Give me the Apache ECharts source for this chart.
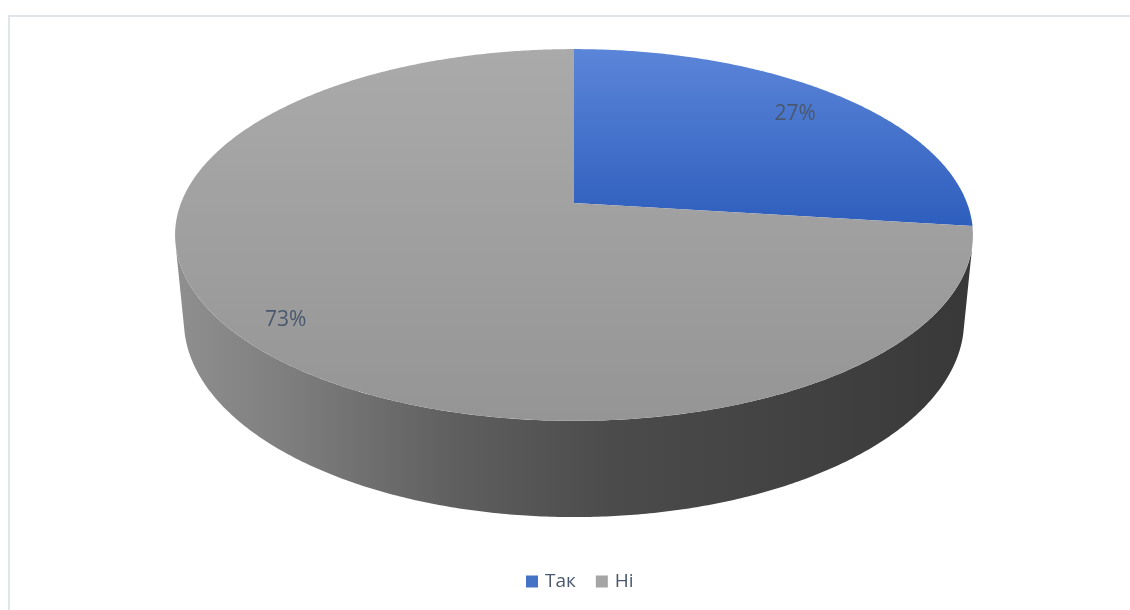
<!DOCTYPE html>
<html>
<head>
<meta charset="utf-8">
<title>Так / Ні</title>
<script src="https://cdn.jsdelivr.net/npm/echarts@6/dist/echarts.min.js"></script>
<style>
  html, body { margin: 0; padding: 0; background: #ffffff; }
  #chart { width: 1130px; height: 610px; }
</style>
</head>
<body>
<div id="chart"></div>
<script>
// Answers and their shares
const categories = ['Так', 'Ні'];
const values = [27, 73];

// Slice colours (legend swatches use the base colour)
const baseColors = ['#4472c4', '#a5a5a5'];
const topGradients = [
  ['#5b85d8', '#2e5ebd'],
  ['#aaaaaa', '#959595']
];

// Perspective camera for the tilted disc
const VIEW = {
  cx: 574,          // screen position of the disc centre
  cy: 203,
  focal: 2029,      // focal length in pixels
  dist: 5.163,      // camera distance in disc radii
  tilt: Math.asin(0.459),
  depth: 0.248      // disc thickness in disc radii
};
const LABEL_RADIUS = [0.82, 0.88];
const TEXT_COLOR = '#4a586e';
const FONT = '"Open Sans", "Noto Sans", sans-serif';

const total = values.reduce((a, b) => a + b, 0);

function project(theta, r, h) {
  const s = Math.sin(VIEW.tilt), c = Math.cos(VIEW.tilt);
  const X = r * Math.sin(theta);
  const d = r * Math.cos(theta);
  const z = VIEW.dist + d * c - h * s;
  return [VIEW.cx + VIEW.focal * X / z, VIEW.cy - VIEW.focal * (d * s + h * c) / z];
}

function arcPoints(a, b, h) {
  const pts = [];
  const n = Math.max(2, Math.ceil(Math.abs(b - a) / (Math.PI / 360)));
  for (let k = 0; k <= n; k++) {
    pts.push(project(a + (b - a) * k / n, 1, h));
  }
  return pts;
}

// Angles are measured clockwise from the far side of the disc (12 o'clock)
function sliceAngles(index) {
  let start = 0;
  for (let i = 0; i < index; i++) start += values[i];
  const a = start / total * Math.PI * 2;
  const b = (start + values[index]) / total * Math.PI * 2;
  return [a, b];
}

function renderSlice(params, api) {
  const i = params.seriesIndex;
  const [a, b] = sliceAngles(i);
  const children = [];

  // Outer wall: only the part that faces the camera
  const c = Math.cos(VIEW.tilt);
  const limit = Math.acos(-1 / (VIEW.dist * c));
  const wa = Math.max(a, limit);
  const wb = Math.min(b, Math.PI * 2 - limit);
  if (wb > wa) {
    const topRim = arcPoints(wa, wb, 0);
    const bottomRim = arcPoints(wb, wa, -VIEW.depth);
    const left = project(Math.PI * 2 - limit, 1, 0)[0];
    const right = project(limit, 1, 0)[0];
    children.push({
      type: 'polygon',
      z2: 1,
      shape: { points: topRim.concat(bottomRim) },
      style: {
        fill: {
          type: 'linear', global: true,
          x: left, y: 0, x2: right, y2: 0,
          colorStops: [
            { offset: 0, color: '#8f8f8f' },
            { offset: 0.15, color: '#7d7d7d' },
            { offset: 0.35, color: '#5f5f5f' },
            { offset: 0.55, color: '#4b4b4b' },
            { offset: 0.8, color: '#414141' },
            { offset: 1, color: '#383838' }
          ]
        }
      }
    });
  }

  // Top face of the slice
  const topPts = [project(0, 0, 0)].concat(arcPoints(a, b, 0));
  children.push({
    type: 'polygon',
    z2: 10,
    shape: { points: topPts },
    style: {
      fill: {
        type: 'linear', x: 0, y: 0, x2: 0, y2: 1,
        colorStops: [
          { offset: 0, color: topGradients[i][0] },
          { offset: 1, color: topGradients[i][1] }
        ]
      }
    }
  });

  // Percentage label
  const mid = (a + b) / 2;
  const pos = project(mid, LABEL_RADIUS[i], 0);
  children.push({
    type: 'text',
    z2: 20,
    x: pos[0],
    y: pos[1],
    style: {
      text: Math.round(api.value(0) / total * 100) + '%',
      fill: TEXT_COLOR,
      font: '21px ' + FONT,
      align: 'center',
      verticalAlign: 'middle'
    }
  });

  return { type: 'group', children: children };
}

const chart = echarts.init(document.getElementById('chart'), null, { renderer: 'canvas' });

chart.setOption({
  backgroundColor: '#ffffff',
  animation: false,
  graphic: [{
    type: 'rect',
    silent: true,
    shape: { x: 9, y: 16, width: 1300, height: 800 },
    style: { fill: 'none', stroke: '#e0e4eb', lineWidth: 2 }
  }],
  legend: {
    data: categories,
    left: 521,
    top: 567,
    icon: 'rect',
    itemWidth: 12,
    itemHeight: 12,
    itemGap: 20,
    textStyle: { color: TEXT_COLOR, fontSize: 19, fontFamily: FONT, padding: [0, 0, 0, 2] }
  },
  series: categories.map((name, i) => ({
    type: 'custom',
    name: name,
    coordinateSystem: 'none',
    itemStyle: { color: baseColors[i] },
    data: [[values[i]]],
    renderItem: renderSlice
  }))
});
</script>
</body>
</html>
